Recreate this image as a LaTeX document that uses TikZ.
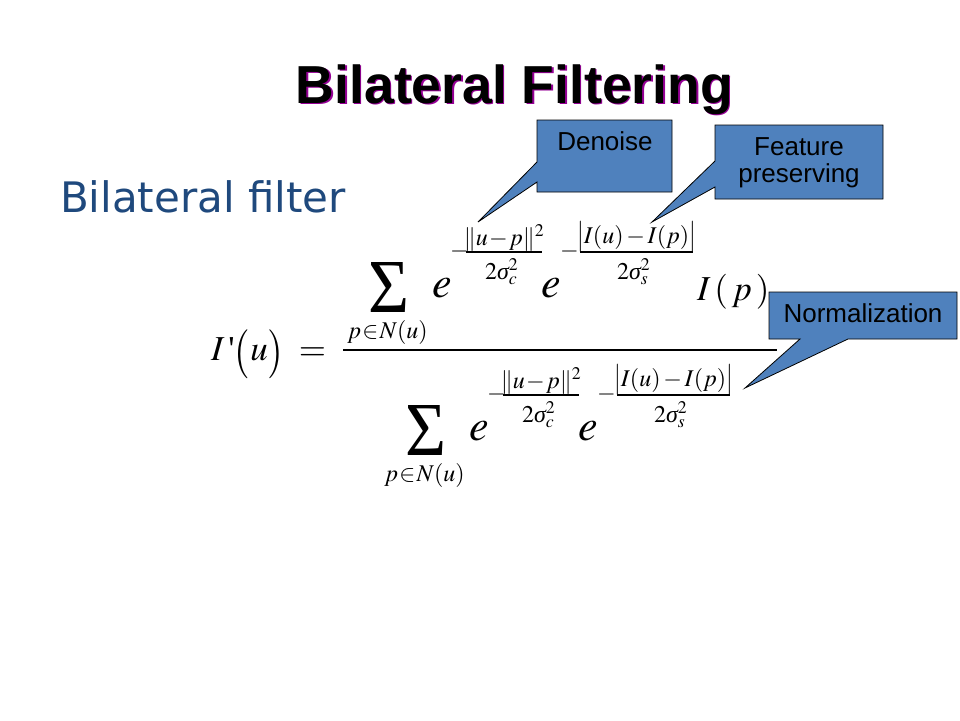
\documentclass[tikz,border=0pt]{standalone}
\usepackage{amsmath}
\usepackage{mathptmx}
\usepackage[no-math]{fontspec}
\usepackage{graphicx}
\newfontfamily\arialf{Liberation Sans}
\newfontfamily\dejaf{DejaVu Sans}
\newfontfamily\timesf{Liberation Serif}
\definecolor{calloutblue}{RGB}{79,129,189}
\definecolor{subtitleblue}{RGB}{31,73,125}
\definecolor{shadowmag}{RGB}{150,0,150}
\newcommand{\tallparen}[1]{\raisebox{-6pt}{\scalebox{1.15}[1.4]{$#1$}}}
\newcommand{\tallvert}{\raisebox{-1pt}{\scalebox{1}[1.3]{$|$}}}
\newcommand{\sig}{\mbox{\timesf\itshape σ}}
\newcommand{\sumglyph}{\resizebox{41pt}{50pt}{\timesf\fontsize{75}{80}\selectfont Σ}}
\begin{document}
\begin{tikzpicture}[x=1pt,y=-1pt,
  every node/.style={inner sep=0pt,outer sep=0pt},
  callout/.style={fill=calloutblue,draw=black,line width=0.8pt,line join=miter},
  callouttext/.style={font=\arialf\fontsize{26}{30}\selectfont,anchor=base},
  titletext/.style={font=\arialf\bfseries\fontsize{53.5}{60}\selectfont,anchor=base},
  bigmath/.style={font=\fontsize{35}{40}\selectfont,anchor=base west},
  emath/.style={font=\fontsize{44}{50}\selectfont,anchor=base west},
  expnum/.style={font=\fontsize{24}{28}\selectfont,anchor=base},
  expden/.style={font=\fontsize{24}{28}\selectfont,anchor=base west},
  submath/.style={font=\fontsize{24}{28}\selectfont,anchor=base},
  fracbar/.style={line width=1.2pt}]
\useasboundingbox (0,0) rectangle (960,720);
\fill[white] (0,0) rectangle (960,720);

% title
\node[titletext,text=shadowmag] (titleshadow) at (516,104.5) {Bilateral Filtering};
\node[titletext,text=black] (title) at (514.5,103) {Bilateral Filtering};

% subtitle
\node[anchor=base west,font=\dejaf\fontsize{42}{50}\selectfont,text=subtitleblue] (subtitle) at (60,212) {Bilateral filter};

% left-hand side
\node[bigmath] (lhs) at (211,360) {$I\,\mbox{\timesf '}\tallparen{(}u\tallparen{)}\;=$};

% main fraction bar
\coordinate (barL) at (343,350);
\coordinate (barR) at (777,350);
\draw[line width=2pt] (barL) -- (barR);

% numerator
\node (nsum) at (388.5,287) {\sumglyph};
\node[submath] (nsub) at (387.5,338) {$p\mkern1mu{\in}\mkern1mu N(u)$};
\node[emath] (ne1) at (432,297) {$e$};
\node[expnum] (nm1) at (459.5,257) {$-$};
\draw[fracbar] (466,252) coordinate (nb1l) -- (542,252) coordinate (nb1r);
\node[expnum] (nn1) at (504,245) {$\|u\mkern1mu{-}\mkern1mu p\|^2$};
\node[expden] (nd1) at (485,279) {$2\sig_c^2$};
\node[emath] (ne2) at (541,297) {$e$};
\node[expnum] (nm2) at (569.5,257) {$-$};
\draw[fracbar] (580,252) coordinate (nb2l) -- (693,252) coordinate (nb2r);
\node[expnum] (nn2) at (636.5,243) {$\tallvert I(u)\mkern2mu{-}\mkern2mu I(p)\tallvert$};
\node[expden] (nd2) at (617,279) {$2\sig_s^2$};
\node[bigmath] (nIp) at (697,300) {$I\,(\,p\,)$};

% denominator
\begin{scope}[shift={(37,143)}]
\node (dsum) at (388.5,287) {\sumglyph};
\node[submath] (dsub) at (387.5,338) {$p\mkern1mu{\in}\mkern1mu N(u)$};
\node[emath] (de1) at (432,297) {$e$};
\node[expnum] (dm1) at (459.5,257) {$-$};
\draw[fracbar] (466,252) coordinate (db1l) -- (542,252) coordinate (db1r);
\node[expnum] (dn1) at (504,245) {$\|u\mkern1mu{-}\mkern1mu p\|^2$};
\node[expden] (dd1) at (485,279) {$2\sig_c^2$};
\node[emath] (de2) at (541,297) {$e$};
\node[expnum] (dm2) at (569.5,257) {$-$};
\draw[fracbar] (580,252) coordinate (db2l) -- (693,252) coordinate (db2r);
\node[expnum] (dn2) at (636.5,243) {$\tallvert I(u)\mkern2mu{-}\mkern2mu I(p)\tallvert$};
\node[expden] (dd2) at (617,279) {$2\sig_s^2$};
\end{scope}

% callouts
\draw[callout] (537,120) -- (672,120) -- (672,192) -- (537,192) -- (537,182) -- (478,222) coordinate (tipA) -- (537,162) -- cycle;
\node[callouttext] (denoise) at (605,150) {Denoise};

\draw[callout] (715,125) -- (883,125) -- (883,199) -- (715,199) -- (715,187) -- (652,222) coordinate (tipB) -- (715,161) -- cycle;
\node[callouttext] (feature1) at (799,155) {Feature};
\node[callouttext] (feature2) at (799,182) {preserving};

\draw[callout] (769,292) -- (957,292) -- (957,339) -- (848,339) -- (745,388) coordinate (tipC) -- (800,339) -- (769,339) -- cycle;
\node[callouttext] (norm) at (863,322) {Normalization};
\end{tikzpicture}
\end{document}
